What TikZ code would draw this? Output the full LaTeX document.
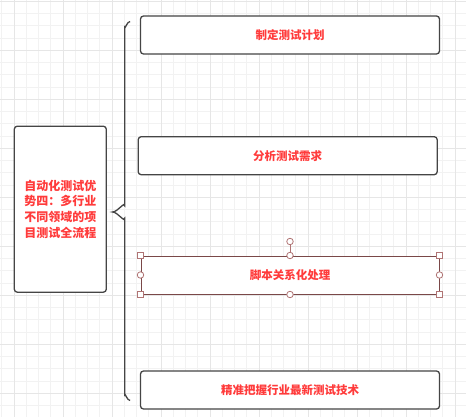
\documentclass[tikz,border=0pt]{standalone}
\usepackage{fontspec}
\usetikzlibrary{positioning}
\newfontfamily\cjk{Noto Sans CJK SC}
\definecolor{txtred}{HTML}{FF3B3B}
\definecolor{boxgray}{HTML}{454545}
\definecolor{selred}{HTML}{7A4848}
\definecolor{hdlred}{HTML}{B07474}
\definecolor{gridminor}{HTML}{F2F2F2}
\definecolor{gridmajor}{HTML}{E6E6E6}
\tikzset{
  stepbox/.style={draw=boxgray,line width=1.3pt,rounded corners=3pt,fill=white,
    minimum width=299pt,minimum height=38pt,inner sep=0pt,
    font=\cjk\bfseries\fontsize{11.5}{14}\selectfont,text=txtred},
  topicbox/.style={stepbox,minimum width=92pt,minimum height=166pt,align=center,
    font=\cjk\bfseries\fontsize{12}{15.7}\selectfont},
  selbox/.style={stepbox,draw=selred,line width=1pt,rounded corners=0pt},
  hdlsq/.style={draw=hdlred,fill=white,line width=0.8pt,minimum size=6pt,inner sep=0pt},
  hdlci/.style={draw=hdlred,fill=white,line width=0.8pt,circle,minimum size=6.5pt,inner sep=0pt},
  bracepen/.style={draw=boxgray,line width=1.3pt}
}
\begin{document}
\begin{tikzpicture}[x=1pt,y=-1pt]
\useasboundingbox[fill=white] (0,0) rectangle (466,417);
% grid
\foreach \k in {0,...,38} {
  \draw[gridminor,line width=0.8pt] (1.8+12.25*\k,0) -- (1.8+12.25*\k,417);
  \draw[gridminor,line width=0.8pt] (0,1.3+12.25*\k) -- (466,1.3+12.25*\k);
}
\foreach \k in {0,...,9} {
  \draw[gridmajor,line width=0.8pt] (14+49*\k,0) -- (14+49*\k,417);
  \draw[gridmajor,line width=0.8pt] (0,1.3+49*\k) -- (466,1.3+49*\k);
}
\node[topicbox] (topic) at (60.3,209.2) {自动化测试优\\势四：多行业\\不同领域的项\\目测试全流程};
\node[stepbox] (plan) at (290,35) {制定测试计划};
\node[stepbox] (need) at (287.7,155.7) {分析测试需求};
\node[selbox,minimum width=298pt] (script) at (290,275) {脚本关系化处理};
\node[stepbox] (tech) at (290,390) {精准把握行业最新测试技术};
% brace
\coordinate (tip) at (112.5,212);
\draw[bracepen] (130,21.5) to[out=180,in=-90] (124.8,27) -- (124.8,206)
  to[out=90,in=0] (tip) to[out=0,in=-90] (124.8,218) -- (124.8,395)
  to[out=90,in=180] (130,400.5);
% selection handles
\node[hdlci,above=14pt of script.north,anchor=center] (rot) {};
\draw[hdlred,line width=0.8pt] (rot) -- (script.north);
\foreach \a in {north west,north east,south west,south east}
  \node[hdlsq] at (script.\a) {};
\foreach \a in {north,south,west,east}
  \node[hdlci] at (script.\a) {};
\end{tikzpicture}
\end{document}
